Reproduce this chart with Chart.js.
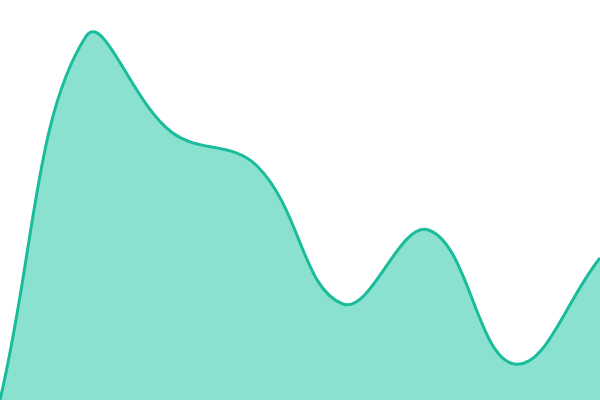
<!DOCTYPE html>
<html>
<head>
<meta charset="utf-8">
<script src="https://cdn.jsdelivr.net/npm/chart.js@4"></script>
<style>
  html, body { margin: 0; padding: 0; background: #fff; }
  #wrap { width: 600px; height: 400px; }
</style>
</head>
<body>
<div id="wrap"><canvas id="areaChart"></canvas></div>
<script>
/* Area chart: single smooth series, no axes */

const labels = ['1', '2', '3', '4', '5', '6', '7', '8'];
const seriesValues = [0, 90.8, 67, 58.5, 24, 42.5, 9, 35.5];

const lineColor = '#1abc9c';
const fillColor = 'rgba(22, 196, 160, 0.5)';

const chartCtx = document.getElementById('areaChart').getContext('2d');

new Chart(chartCtx, {
    type: 'line',
    data: {
        labels,
        datasets: [{
            data: seriesValues,
            borderColor: lineColor,
            backgroundColor: fillColor,
            borderWidth: 3,
            fill: 'origin',
            tension: 0.4,
            pointRadius: 0
        }]
    },
    options: {
        responsive: true,
        maintainAspectRatio: false,
        animation: false,
        layout: { padding: 0 },
        plugins: {
            legend: { display: false },
            tooltip: { enabled: false }
        },
        scales: {
            x: { display: false, offset: false },
            y: { display: false, min: 0, max: 100 }
        }
    }
});
</script>
</body>
</html>
